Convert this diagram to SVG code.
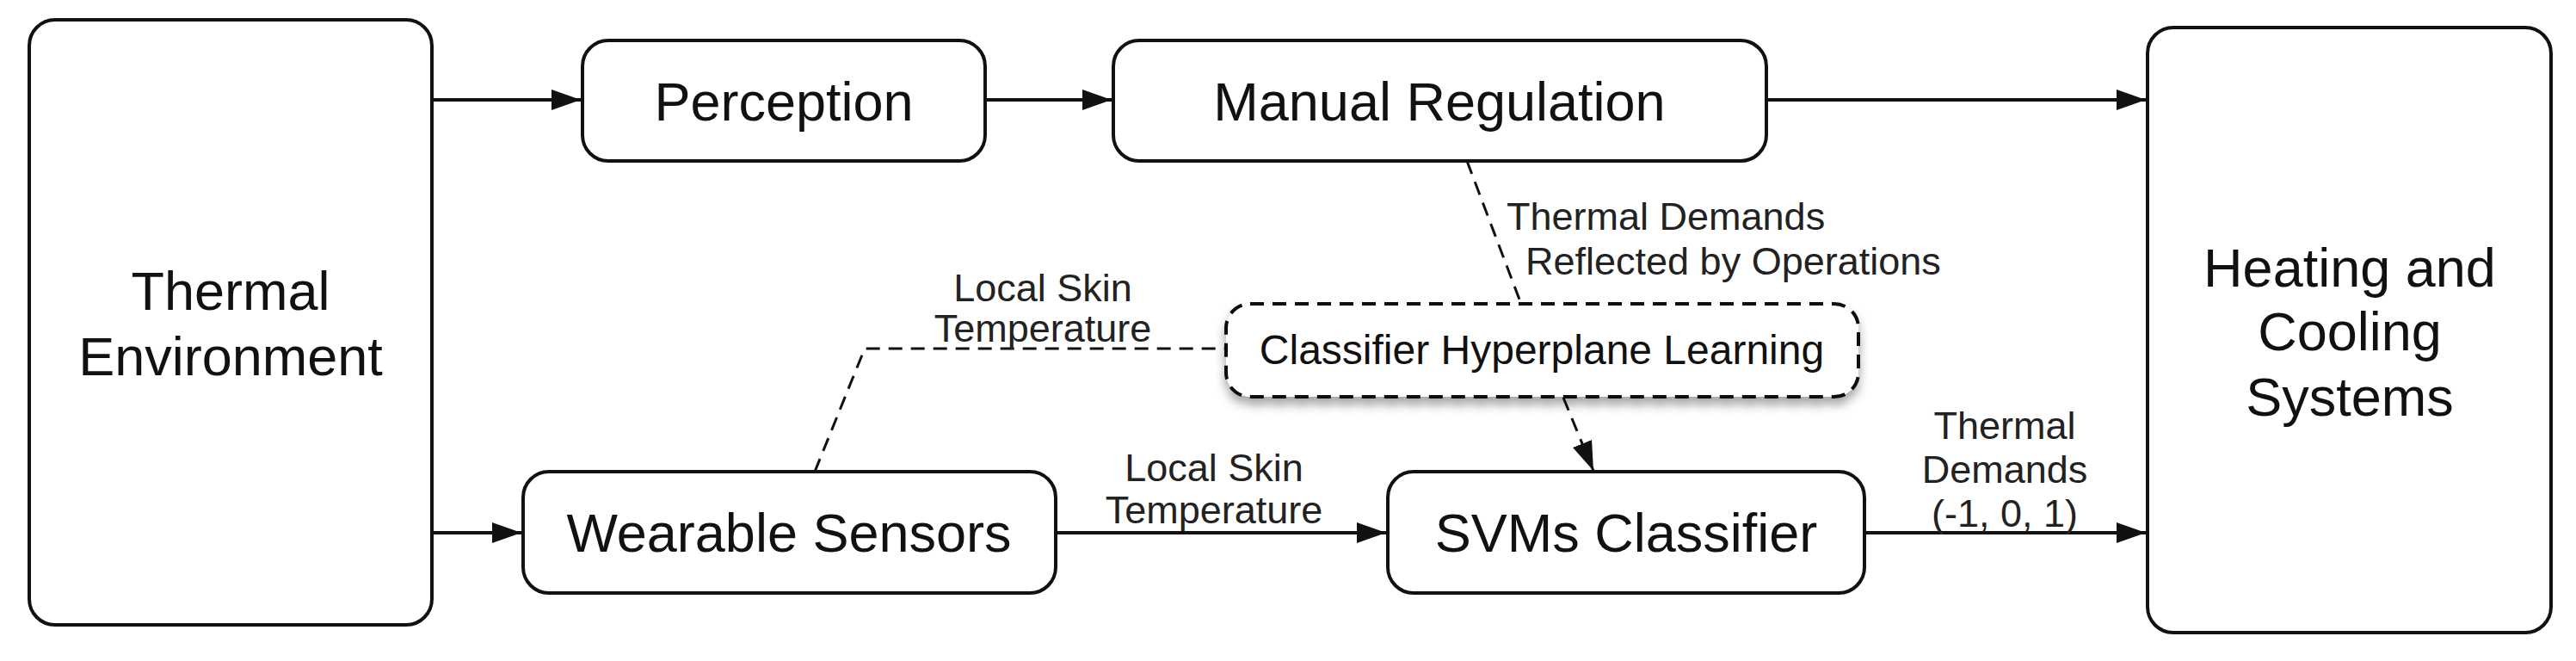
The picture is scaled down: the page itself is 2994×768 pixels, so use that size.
<svg xmlns="http://www.w3.org/2000/svg" width="2994" height="768" viewBox="0 0 2994 768">
<defs>
<style>
.box{fill:#fff;stroke:#111;stroke-width:4}
.dbox{fill:#fff;stroke:#111;stroke-width:4;stroke-dasharray:16 10}
.t{font-family:"Liberation Sans",Arial,sans-serif;font-size:63px;fill:#111;text-anchor:middle}
.l{font-family:"Liberation Sans",Arial,sans-serif;font-size:45px;fill:#222;text-anchor:middle}
.s{text-anchor:start}
.c{fill:none;stroke:#111;stroke-width:4}
.d{fill:none;stroke:#111;stroke-width:3;stroke-dasharray:16 10}
</style>
<marker id="b" viewBox="0 0 10 10" refX="10" refY="5" markerWidth="34" markerHeight="34" markerUnits="userSpaceOnUse" orient="auto"><path d="M0,1.5L10,5L0,8.5z" fill="#111"/></marker>
<filter id="sh" x="-10%" y="-30%" width="120%" height="170%"><feDropShadow dx="0" dy="8" stdDeviation="6" flood-color="#000" flood-opacity="0.35"/></filter>
</defs>
<g id="connectors">
<line class="c" x1="503" y1="116" x2="675" y2="116" marker-end="url(#b)"/>
<line class="c" x1="1147" y1="116" x2="1292" y2="116" marker-end="url(#b)"/>
<line class="c" x1="2053" y1="116" x2="2494" y2="116" marker-end="url(#b)"/>
<line class="c" x1="500" y1="619" x2="606" y2="619" marker-end="url(#b)"/>
<line class="c" x1="1227" y1="619" x2="1611" y2="619" marker-end="url(#b)"/>
<line class="c" x1="2167" y1="619" x2="2494" y2="619" marker-end="url(#b)"/>
<polyline class="d" points="947,548 1005,405 1424,405"/>
<polyline class="d" points="1705,187 1766,348 1770,353"/>
<line class="d" x1="1817" y1="462" x2="1852" y2="547" marker-end="url(#b)"/>
<text class="l" x="1212" y="350">Local Skin</text>
<text class="l" x="1212" y="397">Temperature</text>
<text class="l" x="1411" y="559">Local Skin</text>
<text class="l" x="1411" y="608">Temperature</text>
<text class="l s" x="1751" y="267">Thermal Demands</text>
<text class="l s" x="1773" y="319">Reflected by Operations</text>
<text class="l" x="2330" y="510">Thermal</text>
<text class="l" x="2330" y="561">Demands</text>
<text class="l" x="2330" y="612">(-1, 0, 1)</text>
</g>
<g id="thermal-environment"><rect class="box" x="34" y="23" width="468" height="703" rx="30"/><text class="t" x="268" y="360">Thermal</text><text class="t" x="268" y="436">Environment</text></g>
<g id="perception"><rect class="box" x="677" y="47" width="468" height="140" rx="30"/><text class="t" x="911" y="140">Perception</text></g>
<g id="manual-regulation"><rect class="box" x="1294" y="47" width="759" height="140" rx="30"/><text class="t" x="1673" y="140">Manual Regulation</text></g>
<g id="heating-cooling"><rect class="box" x="2496" y="32" width="469" height="703" rx="30"/><text class="t" x="2731" y="333">Heating and</text><text class="t" x="2731" y="407">Cooling</text><text class="t" x="2731" y="483">Systems</text></g>
<g id="wearable-sensors"><rect class="box" x="608" y="548" width="619" height="141" rx="30"/><text class="t" x="917" y="641">Wearable Sensors</text></g>
<g id="svms-classifier"><rect class="box" x="1613" y="548" width="554" height="141" rx="30"/><text class="t" x="1890" y="641">SVMs Classifier</text></g>
<g id="hyperplane-learning"><rect class="dbox" x="1425" y="353" width="735" height="108" rx="28" filter="url(#sh)"/><text class="l" x="1792" y="423" style="font-size:48px;fill:#111">Classifier Hyperplane Learning</text></g>
</svg>
